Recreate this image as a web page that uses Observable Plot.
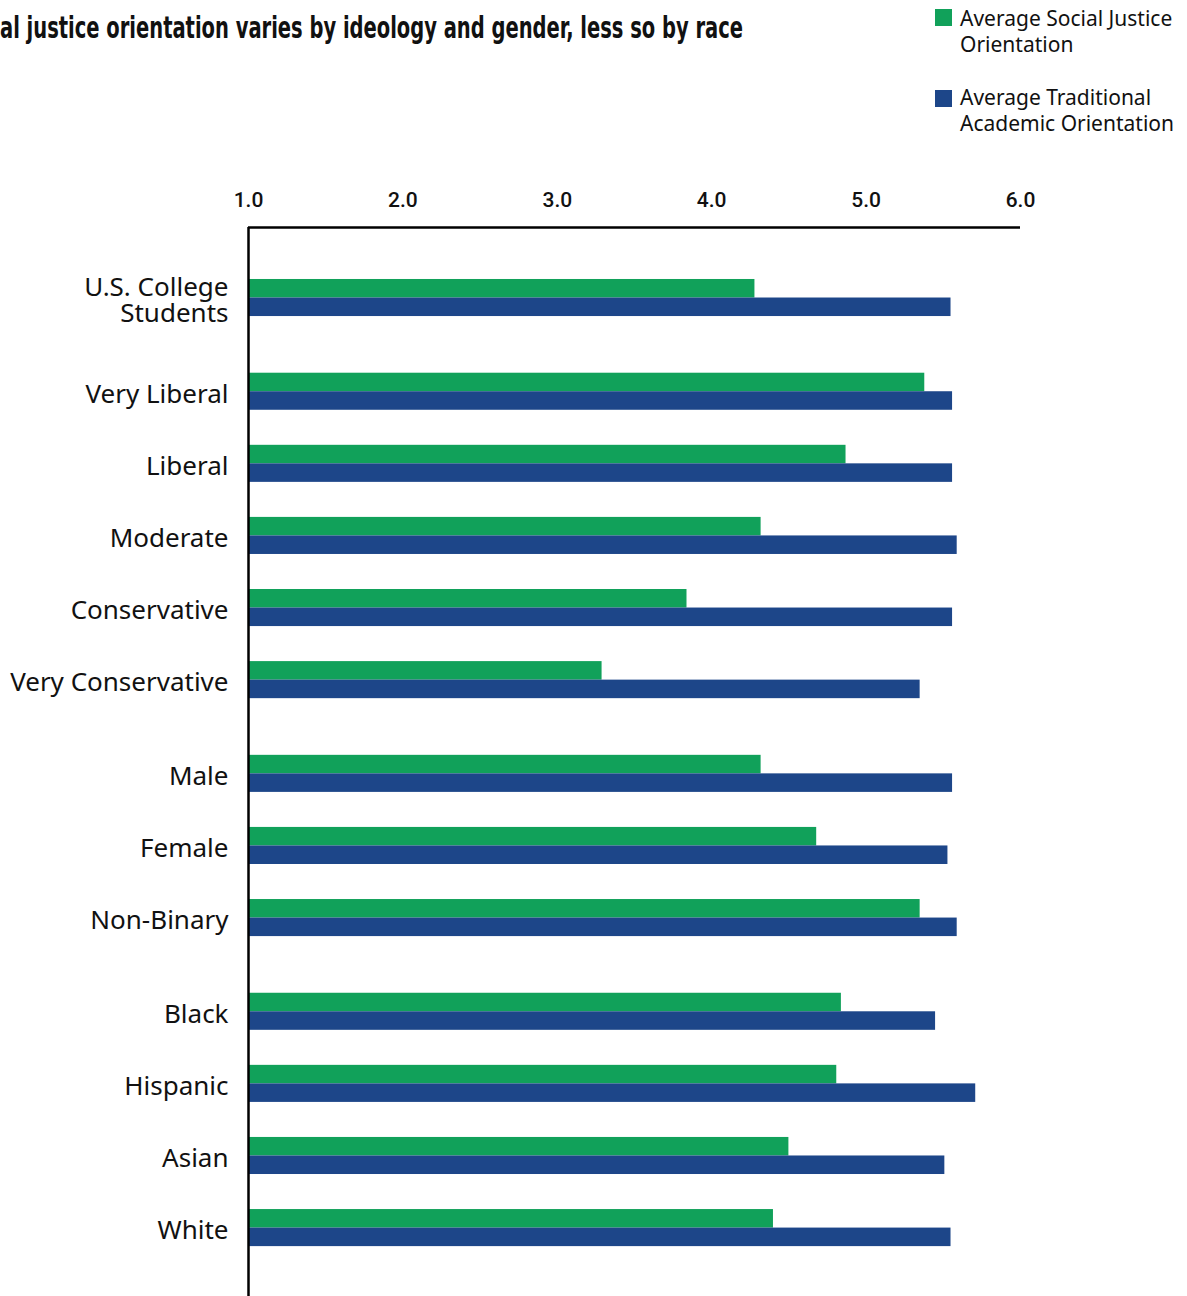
<!DOCTYPE html>
<html><head><meta charset="utf-8">
<script src="https://cdn.jsdelivr.net/npm/d3@7"></script>
<script src="https://cdn.jsdelivr.net/npm/@observablehq/plot@0.6"></script>
<style>
body{margin:0;background:#fff;width:1187px;overflow:hidden;}
#header{position:relative;height:150px;}
#title{position:absolute;left:0;top:0;}
.sw{position:absolute;left:935px;width:17px;height:17px;}
.lt{position:absolute;left:960px;white-space:nowrap;font-family:'Noto Sans',sans-serif;font-size:21px;line-height:26px;height:26px;color:#111;}
#chart svg{display:block;}
</style></head>
<body>
<div id="header">
  <svg id="title" width="1187" height="60"></svg>
  <div id="legend"></div>
</div>
<div id="chart"></div>
<script>
const titleText = "Social justice orientation varies by ideology and gender, less so by race";
const categories = ["U.S. College\nStudents", "Very Liberal", "Liberal", "Moderate", "Conservative", "Very Conservative", "Male", "Female", "Non-Binary", "Black", "Hispanic", "Asian", "White"];
const groupOf = [0, 1, 1, 1, 1, 1, 2, 2, 2, 3, 3, 3, 3];
const socialJustice = [4.28, 5.38, 4.87, 4.32, 3.84, 3.29, 4.32, 4.68, 5.35, 4.84, 4.81, 4.50, 4.40];
const traditional = [5.55, 5.56, 5.56, 5.59, 5.56, 5.35, 5.56, 5.53, 5.59, 5.45, 5.71, 5.51, 5.55];
const seriesNames = [["Average Social Justice", "Orientation"], ["Average Traditional", "Academic Orientation"]];
const xTicks = [1, 2, 3, 4, 5, 6];

const GREEN = "#11A15A", BLUE = "#1D4689";
const groupGap = 0.3, barH = 0.257;
const yDomain = [-0.978, 13.849];

// title (clipped at the left like the reference)
{
  const svg = d3.select("#title");
  const t = svg.append("text")
    .attr("y", 38)
    .attr("font-family", "'DejaVu Sans Condensed','DejaVu Sans',sans-serif")
    .attr("font-stretch", "condensed")
    .attr("font-weight", "bold")
    .attr("font-size", 31)
    .attr("fill", "#111")
    .text(titleText);
  const node = t.node();
  const L = node.getComputedTextLength();
  const Ls = node.getSubStringLength(0, 4);
  const k = 743 / (L - Ls);
  t.attr("textLength", L * k).attr("lengthAdjust", "spacingAndGlyphs").attr("x", 743 - L * k);
}

// legend
{
  const leg = d3.select("#legend");
  const swTops = [9, 90];
  const textTops = [5, 84];
  [GREEN, BLUE].forEach((c, i) => {
    leg.append("div").attr("class", "sw").style("top", swTops[i] + "px").style("background", c);
    seriesNames[i].forEach((line, j) => {
      leg.append("div").attr("class", "lt").style("top", (textTops[i] + j * 26) + "px").text(line);
    });
  });
}

const rows = categories.map((c, i) => ({
  category: c,
  pos: i + groupOf[i] * groupGap,
  sj: socialJustice[i],
  ta: traditional[i]
}));

const chart = Plot.plot({
  width: 1187,
  height: 1146,
  marginLeft: 248,
  marginRight: 167,
  marginTop: 77,
  marginBottom: 0,
  style: {background: "#fff", color: "#111"},
  x: {domain: [1, 6]},
  y: {domain: yDomain, reverse: true, axis: null},
  marks: [
    Plot.rect(rows, {x1: 1, x2: "sj", y1: d => d.pos - barH, y2: d => d.pos, fill: GREEN}),
    Plot.rect(rows, {x1: 1, x2: "ta", y1: d => d.pos, y2: d => d.pos + barH, fill: BLUE}),
    Plot.axisX({anchor: "top", ticks: xTicks, tickFormat: d => d.toFixed(1), tickSize: 0, tickPadding: 21, label: null, fontSize: 21, fontWeight: 500, fontFamily: "Roboto, sans-serif", fill: "#111"}),
    Plot.ruleX([1], {stroke: "#000", strokeWidth: 2.5}),
    Plot.ruleY([yDomain[0]], {stroke: "#000", strokeWidth: 2.5}),
    Plot.text(rows, {x: 1, y: "pos", text: "category", textAnchor: "end", dx: -20, dy: 3, fontSize: 26, lineHeight: 1.0, fontFamily: "'Noto Sans', sans-serif", fill: "#111"})
  ]
});
document.getElementById("chart").appendChild(chart);
</script>
</body></html>
